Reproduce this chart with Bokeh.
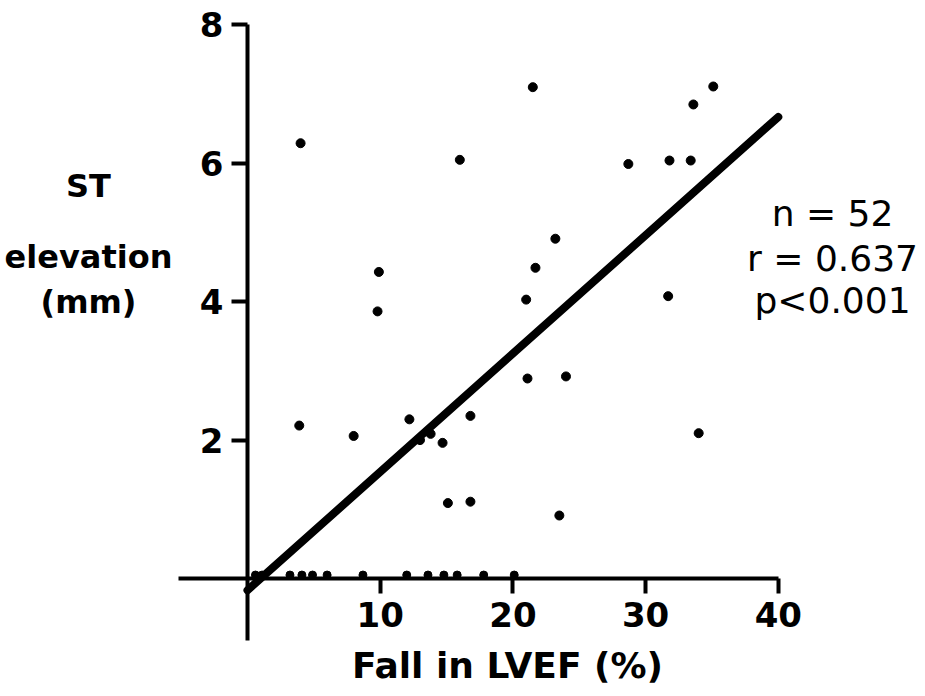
from bokeh.plotting import figure
from bokeh.models import LinearAxis, FixedTicker, Label, Range1d, ColumnDataSource
from bokeh.embed import file_html
from bokeh.resources import INLINE

# ---- data ----
fall_lvef = [4.0, 3.9, 8.0, 9.9, 9.8, 12.2, 13.0, 13.8, 14.7, 16.0, 15.1, 16.8, 16.8,
             21.5, 21.0, 21.1, 21.7, 23.2, 24.0, 23.5, 28.7, 31.8, 31.7, 33.4, 33.6,
             35.1, 34.0]
st_elevation = [6.29, 2.21, 2.06, 4.43, 3.86, 2.30, 2.00, 2.09, 1.96, 6.05, 1.09, 1.11,
                2.35, 7.10, 4.03, 2.89, 4.49, 4.91, 2.92, 0.91, 5.99, 6.04, 4.08, 6.04,
                6.85, 7.11, 2.10]
# patients with no ST elevation (sitting on the x axis)
fall_lvef_zero = [0.6, 1.1, 3.2, 4.1, 4.9, 6.0, 8.7, 12.0, 13.6, 14.8, 15.8, 17.8, 20.1]
st_elevation_zero = [0.05] * len(fall_lvef_zero)

# regression line end points
reg_x = [0, 40]
reg_y = [-0.17, 6.67]

x_ticks = [10, 20, 30, 40]
y_ticks = [2, 4, 6, 8]
x_title = "Fall in LVEF (%)"
y_title = ["ST", "elevation", "(mm)"]
stats = ["n = 52", "r = 0.637", "p<0.001"]

# ---- layout (pixel mapping of the page) ----
W, H = 925, 696
X0, XS = 247.0, 13.27   # pixel of x=0, pixels per unit
Y0, YS = 578.0, 69.2    # pixel of y=0, pixels per unit


def dx(px):
    return (px - X0) / XS


def dy(py):
    return (Y0 - py) / YS


p = figure(width=W, height=H, output_backend="svg", toolbar_location=None,
           x_range=Range1d(dx(0), dx(W)), y_range=Range1d(dy(H), dy(0)),
           x_axis_type=None, y_axis_type=None, min_border=0,
           outline_line_color=None, background_fill_color="white",
           border_fill_color="white")

label_font = "DejaVu Sans"

xaxis = LinearAxis(fixed_location=0, bounds=(dx(178), 40),
                   ticker=FixedTicker(ticks=x_ticks),
                   axis_line_width=4, axis_line_color="black",
                   major_tick_line_width=4, major_tick_out=15, major_tick_in=0,
                   minor_tick_line_color=None,
                   major_label_text_font=label_font,
                   major_label_text_font_style="bold",
                   major_label_text_font_size="34px",
                   major_label_text_color="black",
                   major_label_standoff=8)
p.add_layout(xaxis, "below")

yaxis = LinearAxis(fixed_location=0, bounds=(dy(640), 8),
                   ticker=FixedTicker(ticks=y_ticks),
                   axis_line_width=4, axis_line_color="black",
                   major_tick_line_width=4, major_tick_out=16, major_tick_in=0,
                   minor_tick_line_color=None,
                   major_label_text_font=label_font,
                   major_label_text_font_style="bold",
                   major_label_text_font_size="34px",
                   major_label_text_color="black",
                   major_label_standoff=8)
p.add_layout(yaxis, "left")

p.line(reg_x, reg_y, line_width=8, line_color="black", line_cap="round")

src = ColumnDataSource(dict(x=fall_lvef, y=st_elevation))
p.scatter("x", "y", source=src, size=9, color="black")
src0 = ColumnDataSource(dict(x=fall_lvef_zero, y=st_elevation_zero))
p.scatter("x", "y", source=src0, size=8, color="black")

# axis titles
p.add_layout(Label(x=dx(507), y=dy(665), text=x_title, text_align="center",
                   text_baseline="middle", text_font=label_font,
                   text_font_style="bold", text_font_size="36px", text_color="black"))
for txt, py in zip(y_title, [185, 256, 301]):
    p.add_layout(Label(x=dx(88), y=dy(py), text=txt, text_align="center",
                       text_baseline="middle", text_font=label_font,
                       text_font_style="bold", text_font_size="32px",
                       text_color="black"))

# statistics
for txt, py in zip(stats, [213, 258, 300]):
    p.add_layout(Label(x=dx(832), y=dy(py), text=txt, text_align="center",
                       text_baseline="middle", text_font="DejaVu Sans",
                       text_font_size="36px", text_color="black"))

open("out.html", "w").write(file_html(p, INLINE))
